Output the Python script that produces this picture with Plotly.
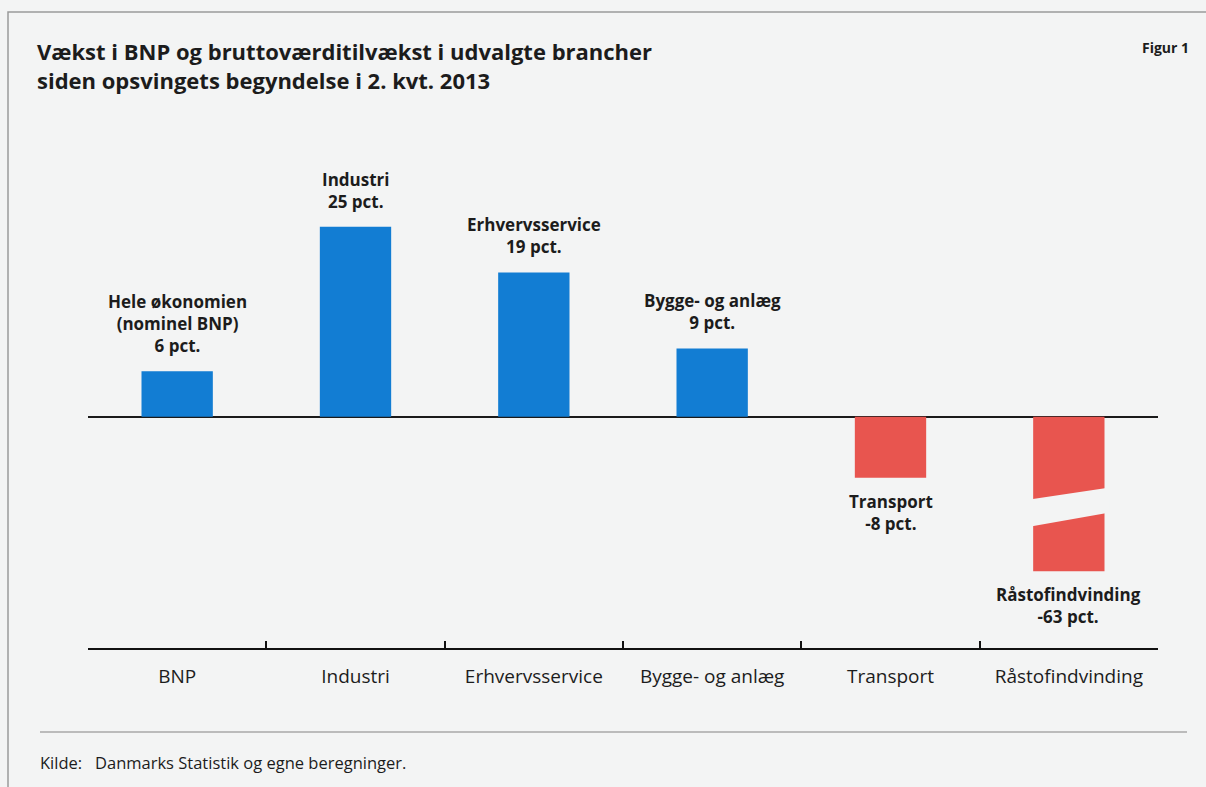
import plotly.graph_objects as go

# ---- data ----
categories = ["BNP", "Industri", "Erhvervsservice", "Bygge- og anlæg", "Transport", "Råstofindvinding"]
values = [6, 25, 19, 9, -8, -63]
bar_labels = [
    "Hele økonomien<br>(nominel BNP)<br>6 pct.",
    "Industri<br>25 pct.",
    "Erhvervsservice<br>19 pct.",
    "Bygge- og anlæg<br>9 pct.",
    "Transport<br>-8 pct.",
    "Råstofindvinding<br>-63 pct.",
]
title_text = "Vækst i BNP og bruttoværditilvækst i udvalgte brancher<br>siden opsvingets begyndelse i 2. kvt. 2013"
source_text = "Kilde:   Danmarks Statistik og egne beregninger."
fig_label = "Figur 1"

# ---- styling / layout constants ----
W, H = 1206, 787
ML, MR, MT, MB = 88, 48, 150, 139
BG = "#f3f4f4"
BLUE = "#127dd3"
RED = "#e8554f"
TXT = "#1c1c1c"
Y_RANGE = [-30.4, 35.1]
BROKEN_CAP = -20.3        # displayed length of a bar that is drawn with an axis break
BAR_WIDTH = 0.4
FONT = "Open Sans"

display_vals = [max(v, BROKEN_CAP) for v in values]
colors = [BLUE if v >= 0 else RED for v in values]

PW = W - ML - MR
PH = H - MT - MB
def px_x(p):
    return (p - ML) / PW
def px_y(p):
    return (H - MB - p) / PH

fig = go.Figure()
fig.add_trace(go.Bar(
    x=categories, y=display_vals, marker=dict(color=colors, line=dict(width=0)),
    width=BAR_WIDTH, hoverinfo="skip", showlegend=False,
))

annotations = []
for cat, v, dv, lab in zip(categories, values, display_vals, bar_labels):
    annotations.append(dict(
        x=cat, y=dv, xref="x", yref="y", text=lab, showarrow=False,
        yanchor="bottom" if v >= 0 else "top",
        yshift=12 if v >= 0 else -10,
        font=dict(family=FONT, size=17, color=TXT, weight="bold"),
        align="center",
    ))

# title, figure number, source
annotations.append(dict(
    xref="paper", yref="paper", x=px_x(35), y=px_y(34), xanchor="left", yanchor="top",
    text=title_text, showarrow=False, align="left",
    font=dict(family=FONT, size=22, color=TXT, weight="bold"),
))
annotations.append(dict(
    xref="paper", yref="paper", x=px_x(1191), y=px_y(47), xanchor="right", yanchor="middle",
    text=fig_label, showarrow=False,
    font=dict(family=FONT, size=14, color=TXT, weight="bold"),
))
annotations.append(dict(
    xref="paper", yref="paper", x=px_x(38), y=px_y(762), xanchor="left", yanchor="middle",
    text=source_text, showarrow=False,
    font=dict(family=FONT, size=16.5, color=TXT),
))

shapes = []
# axis-break gap drawn across the broken bar(s)
for i, v in enumerate(values):
    if v < BROKEN_CAP:
        x0, x1 = i - BAR_WIDTH / 2 - 0.03, i + BAR_WIDTH / 2 + 0.03
        c = BROKEN_CAP
        path = (f"M {x0},{c*0.537} L {x1},{c*0.458} "
                f"L {x1},{c*0.62} L {x0},{c*0.714} Z")
        shapes.append(dict(type="path", path=path, xref="x", yref="y",
                           fillcolor=BG, line=dict(width=0), layer="above"))
# frame and rule
shapes.append(dict(type="rect", xref="paper", yref="paper",
                   x0=px_x(8), x1=px_x(1230), y0=px_y(12), y1=px_y(820),
                   line=dict(color="#9a9a9a", width=1.5), layer="below"))
shapes.append(dict(type="line", xref="paper", yref="paper",
                   x0=px_x(40), x1=px_x(1187), y0=px_y(732), y1=px_y(732),
                   line=dict(color="#a8a8a8", width=1.5)))

fig.update_layout(
    width=W, height=H,
    margin=dict(l=ML, r=MR, t=MT, b=MB),
    paper_bgcolor=BG, plot_bgcolor=BG,
    bargap=0.6,
    annotations=annotations, shapes=shapes,
    xaxis=dict(type="category", tickson="boundaries", ticks="inside", ticklen=7,
               tickwidth=1.5, tickcolor="#111", showline=True, linecolor="#111",
               linewidth=2, showgrid=False, ticklabelstandoff=10,
               tickfont=dict(family=FONT, size=19, color=TXT)),
    yaxis=dict(range=Y_RANGE, showgrid=False, showticklabels=False, ticks="",
               zeroline=True, zerolinecolor="#1a1a1a", zerolinewidth=2),
)

fig.write_html("out.html", config={"displayModeBar": False},
               post_script="document.body.style.margin='0';document.body.style.overflow='hidden';")
